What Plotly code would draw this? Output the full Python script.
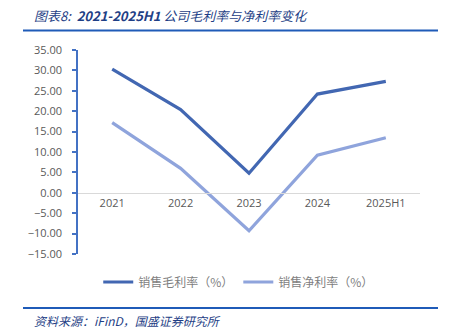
import plotly.graph_objects as go

categories = ["2021", "2022", "2023", "2024", "2025H1"]
gross_margin = [30.3, 20.4, 4.8, 24.2, 27.3]
net_margin = [17.2, 6.0, -9.3, 9.2, 13.5]
y_ticks = [35, 30, 25, 20, 15, 10, 5, 0, -5, -10, -15]

W, H = 450, 332
L, R, T, B = 78, 30, 50, 78
pw, ph = W - L - R, H - T - B

def px_x(x):
    return (x - L) / pw

def px_y(y):
    return (H - B - y) / ph

fig = go.Figure()
fig.add_trace(go.Scatter(x=categories, y=gross_margin, mode="lines",
                         name="销售毛利率（%）",
                         line=dict(color="#4267B2", width=3.2)))
fig.add_trace(go.Scatter(x=categories, y=net_margin, mode="lines",
                         name="销售净利率（%）",
                         line=dict(color="#8FA4DC", width=3.2)))

font_cn = "Noto Sans CJK SC"
fig.update_layout(
    width=W, height=H,
    margin=dict(l=L, r=R, t=T, b=B),
    paper_bgcolor="white", plot_bgcolor="white",
    showlegend=True,
    legend=dict(orientation="h", x=0.47, xanchor="center", y=px_y(282), yanchor="middle",
                font=dict(family=font_cn, size=12, color="#7F7F7F"),
                itemwidth=30, bgcolor="rgba(0,0,0,0)"),
    xaxis=dict(anchor="free", position=0.3, showline=True, linecolor="#D9D9D9", linewidth=1,
               showgrid=False, ticks="", zeroline=False,
               tickfont=dict(family="Open Sans", size=11, color="#595959"),
               range=[-0.5, 4.5]),
    yaxis=dict(range=[-15, 35], tickvals=y_ticks, tickformat=".2f",
               showgrid=False, zeroline=False, showline=True, linecolor="#4472C4", linewidth=1.5,
               ticks="outside", ticklen=4, tickcolor="#4472C4", tickwidth=1.5,
               ticklabelstandoff=8,
               tickfont=dict(family="Open Sans", size=11, color="#595959")),
    shapes=[
        dict(type="line", xref="paper", yref="paper", x0=px_x(23), x1=px_x(438),
             y0=px_y(30.5), y1=px_y(30.5), line=dict(color="#1F5BB8", width=2.2)),
        dict(type="line", xref="paper", yref="paper", x0=px_x(23), x1=px_x(438),
             y0=px_y(308), y1=px_y(308), line=dict(color="#1F5BB8", width=2.2)),
    ],
    annotations=[
        dict(text="<i>图表8:  <b>2021-2025H1</b> 公司毛利率与净利率变化</i>", xref="paper", yref="paper",
             x=px_x(32), y=px_y(16), xanchor="left", yanchor="middle", showarrow=False,
             font=dict(family=font_cn, size=13, color="#1F3F86")),
        dict(text="<i>资料来源：iFinD，国盛证券研究所</i>", xref="paper", yref="paper",
             x=px_x(32), y=px_y(320), xanchor="left", yanchor="middle", showarrow=False,
             font=dict(family=font_cn, size=12, color="#1F3F86")),
    ],
)

fig.write_html("out.html")
